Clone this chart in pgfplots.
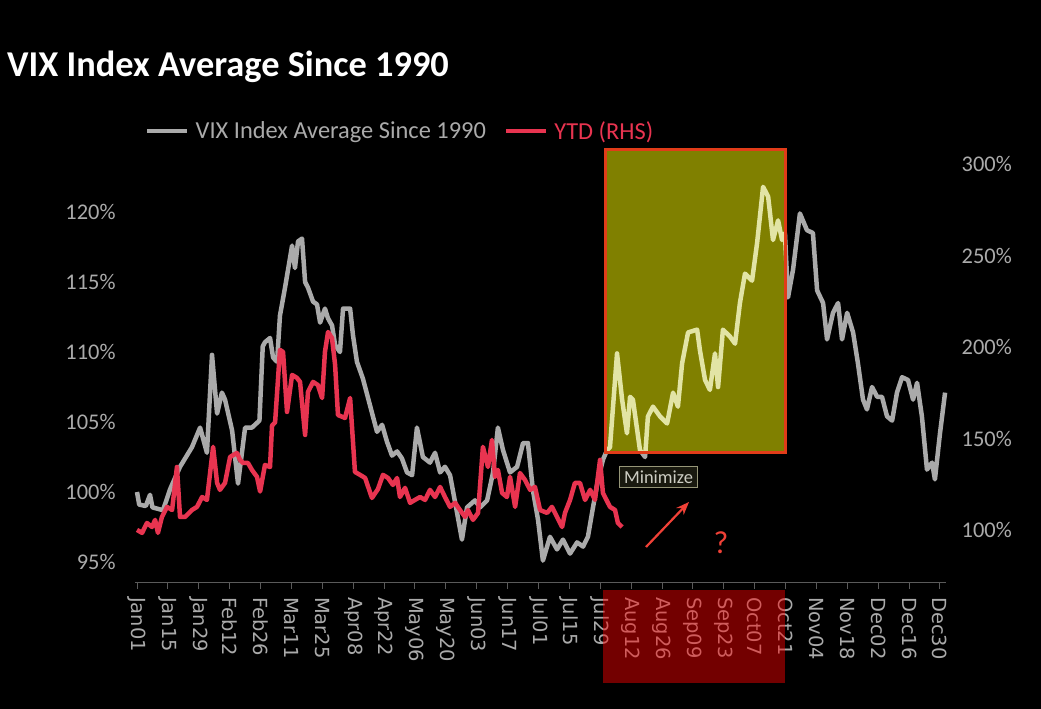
\documentclass[border=0pt]{standalone}
\usepackage{pgfplots}
\pgfplotsset{compat=1.18}
\usepackage{pgfplotstable}
\usepackage{fontspec}
\setmainfont{Carlito}
\newfontfamily\dejavu{DejaVu Sans}
\usetikzlibrary{arrows.meta}
\definecolor{vixgray}{RGB}{170,170,170}
\definecolor{paleyel}{RGB}{226,228,165}
\definecolor{olivebox}{RGB}{128,128,0}
\definecolor{ytdred}{RGB}{232,52,80}
\definecolor{boxred}{RGB}{225,60,25}
\definecolor{arrowred}{RGB}{240,65,55}

\pgfplotstableread{
day val
0 100.0
1 99.1
4 99.0
5.9 99.8
7 98.9
11.8 98.7
15 100.2
19.5 101.8
24.9 103.2
28.6 104.6
31.7 102.8
34.0 109.8
36.3 105.6
38.5 107.1
39.9 106.6
43.1 104.4
45.8 100.6
49.0 104.6
52.1 104.6
55.5 105.1
57.0 110.4
58.0 110.7
60.3 111.0
61.7 109.6
63.5 109.3
64.8 112.6
67.1 114.6
70.3 117.6
71.6 116.0
73.0 117.9
74.8 118.1
76.2 115.0
77.5 114.6
79.8 113.6
81.6 113.4
83.0 112.1
85.2 113.1
86.6 112.4
88.4 111.9
89.8 110.5
92.0 110.0
93.4 113.1
96.6 113.1
97.9 111.2
99.7 109.3
102.4 108.1
105.6 106.2
108.8 104.3
111.1 104.8
113.3 103.6
115.6 102.6
117.9 102.9
120.1 102.4
122.4 101.4
124.7 101.2
126.9 104.6
129.6 102.5
132.8 102.1
135.1 102.8
137.4 101.4
139.6 101.8
141.9 101.2
145.1 98.5
147.3 96.6
149.6 98.9
153.2 99.4
155.5 98.9
158.7 99.4
161.4 101.4
163.6 104.6
165.9 103.0
169.1 101.4
172.3 101.8
175.0 103.5
177.2 103.5
179.5 100.1
181.8 98.0
184.0 95.1
187.2 96.8
190.4 95.9
193.1 96.6
196.3 95.6
199.5 96.4
202.2 96.1
204.4 96.8
206.7 98.9
209.0 100.9
211.2 102.3
213.1 103.0
214.4 103.2
217.6 109.9
219.9 106.6
222.1 104.2
223.5 106.8
224.8 106.6
228.0 103.0
230.3 102.5
231.6 105.4
233.9 106.1
237.1 105.4
240.3 104.9
243.0 107.1
245.2 106.1
247.1 109.2
249.8 111.4
253.9 111.6
255.2 110.1
257.5 108.0
259.7 107.3
262.0 109.9
263.4 107.5
265.6 111.6
268.8 111.1
271.1 110.6
273.3 113.5
275.6 115.6
278.8 115.1
281.1 117.8
283.8 121.8
286.1 121.1
288.3 118.0
290.6 119.4
292.4 118.0
293.7 118.5
295.1 113.9
297.4 115.9
300.5 119.9
303.7 118.7
306.4 118.5
308.3 114.4
311.0 113.5
312.8 110.9
315.5 112.8
317.8 113.5
319.6 110.9
321.9 112.8
324.6 111.4
326.8 109.2
329.1 106.6
330.9 105.9
333.2 107.5
335.5 106.8
337.7 106.8
340.0 105.4
342.3 105.1
344.5 107.1
346.8 108.2
349.5 108.0
351.8 106.6
353.6 107.8
355.8 105.4
358.1 101.6
360.4 102.1
361.7 100.9
364.0 104.2
366.3 107.1
}\graytable

\pgfplotstableread{
day val
0 100.0
2.3 98.4
4.5 103.8
6.8 101.6
8.2 105.5
9.5 98.4
11.3 107.1
13.6 112.6
15.9 110.9
18.1 134.4
19.5 107.1
21.8 107.1
24.9 110.9
27.2 112.6
29.5 118.0
31.7 116.4
34.5 145.4
36.3 125.7
37.6 121.9
39.9 125.7
42.2 139.9
45.3 142.1
46.7 138.3
48.1 136.6
50.3 136.6
52.1 132.8
54.4 129.0
55.8 121.0
58.0 135.5
60.3 134.4
61.2 157.0
62.6 158.8
64.8 198.4
66.2 197.3
68.0 164.5
70.3 184.7
72.5 183.1
73.9 180.9
76.2 151.9
77.5 175.4
79.8 180.9
82.0 179.2
83.9 172.1
85.2 197.3
86.6 208.2
88.4 204.9
89.8 190.2
91.1 162.8
94.3 161.2
96.6 172.1
98.8 131.7
101.1 130.1
103.4 128.4
106.5 117.5
109.2 122.3
111.5 130.1
113.8 128.4
116.0 124.6
117.9 128.4
119.2 118.0
121.5 123.0
123.8 114.8
126.0 116.4
128.3 118.0
130.6 116.4
132.8 121.9
135.1 118.0
137.4 123.5
139.6 118.0
141.9 112.6
144.2 114.8
146.4 110.9
148.7 107.1
150.0 110.9
152.3 105.5
154.6 109.3
156.8 145.4
159.1 134.4
160.9 149.2
162.3 129.0
163.6 132.8
165.5 120.2
167.7 118.0
169.1 129.0
171.4 112.6
173.6 131.1
175.9 127.3
178.2 121.9
180.4 123.5
182.7 110.9
185.9 109.3
188.1 112.6
190.4 107.1
192.7 101.6
194.0 109.3
196.3 116.4
198.5 125.7
200.8 125.7
203.1 116.4
205.4 121.9
207.6 116.4
209.9 138.3
211.2 120.2
214.4 112.6
216.7 110.9
218.0 103.8
219.9 101.6
}\ytdtable

\begin{document}
\begin{tikzpicture}
\useasboundingbox (0bp,0bp) rectangle (1041bp,709bp);
\fill[black] (0bp,0bp) rectangle (1041bp,709bp);

\begin{axis}[
  at={(134.8bp,126bp)}, anchor=south west,
  scale only axis, width=810.7bp, height=433bp,
  xmin=-1, xmax=366.5, ymin=93.5, ymax=124.43,
  axis x line*=bottom, axis y line*=left,
  x axis line style={draw={rgb,255:red,90;green,90;blue,90}, line width=1bp},
  y axis line style={draw=none},
  xtick={0,14,...,364},
  xticklabels={Jan01,Jan15,Jan29,Feb12,Feb26,Mar11,Mar25,Apr08,Apr22,May06,May20,Jun03,Jun17,Jul01,Jul15,Jul29,Aug12,Aug26,Sep09,Sep23,Oct07,Oct21,Nov04,Nov18,Dec02,Dec16,Dec30},
  x tick style={draw={rgb,255:red,90;green,90;blue,90}, line width=1bp},
  tick align=outside,
  x tick label style={rotate=-90, anchor=west, inner sep=0pt, text=vixgray, font=\dejavu\fontsize{19.5}{21}\selectfont},
  xticklabel shift=8bp,
  xtick pos=bottom,
  ytick={95,100,105,110,115,120},
  yticklabels={95\%,100\%,105\%,110\%,115\%,120\%},
  y tick style={draw=none},
  ytick pos=left,
  y tick label style={anchor=east, inner sep=0pt, text=vixgray, font=\fontsize{22.5}{24}\selectfont},
  yticklabel shift=13bp,
  major tick length=6bp,
  legend style={at={(0.0126,1.0439)}, anchor=west, draw=none, fill=none, text=vixgray,
    font=\fontsize{24.5}{26}\selectfont, inner sep=0pt,
    nodes={inner xsep=6bp},
    /tikz/every even column/.append style={column sep=12bp}},
  legend columns=2,
  legend cell align=left,
  legend image code/.code={\draw[#1] (0bp,0bp) -- (40bp,0bp);},
  clip=false,
]
\addplot[vixgray, line width=4.5bp, line join=round] table[x=day,y=val] {\graytable};
\addlegendentry{VIX Index Average Since 1990}
\addlegendimage{ytdred, line width=4.5bp}
\addlegendentry{\textcolor{ytdred}{YTD (RHS)}}
\end{axis}

\begin{axis}[
  at={(134.8bp,126bp)}, anchor=south west,
  scale only axis, width=810.7bp, height=433bp,
  xmin=-1, xmax=366.5, ymin=71.0, ymax=307.65,
  axis x line=none, axis y line*=right,
  y axis line style={draw=none},
  ytick={100,150,200,250,300},
  yticklabels={100\%,150\%,200\%,250\%,300\%},
  y tick style={draw=none},
  y tick label style={anchor=west, inner sep=0pt, text=vixgray, font=\fontsize{22.5}{24}\selectfont},
  yticklabel shift=16bp,
  clip=false,
]
\addplot[ytdred, line width=4.5bp, line join=round] table[x=day,y=val] {\ytdtable};
\end{axis}

% highlight box: olive fill, gray line seen through it in pale yellow
\fill[olivebox] (605bp,256bp) rectangle (785bp,559bp);
\begin{axis}[
  at={(605bp,256bp)}, anchor=south west,
  scale only axis, width=180bp, height=303bp,
  xmin=212.15, xmax=293.74, ymin=102.79, ymax=124.43,
  hide axis,
]
\addplot[paleyel, line width=4.5bp, line join=round] table[x=day,y=val] {\graytable};
\end{axis}
\draw[boxred, line width=3bp] (605bp,256bp) rectangle (785bp,559bp);
\fill[red, opacity=0.45] (603bp,26bp) rectangle (785bp,119bp);

% tooltip and annotations
\node[draw={rgb,255:red,150;green,150;blue,120}, fill={rgb,255:red,25;green,25;blue,15},
  text={rgb,255:red,205;green,205;blue,195}, font=\fontsize{18.5}{20}\selectfont,
  inner xsep=5bp, inner ysep=4bp, line width=1bp] at (658.5bp,232bp) {Minimize};
\draw[arrowred, line width=2.2bp, -{Stealth[length=13bp,width=10bp]}] (646bp,162bp) -- (689bp,207bp);
\node[text=arrowred, font=\fontsize{32}{34}\selectfont] at (721bp,166bp) {?};

% title
\node[anchor=base west, text=white, font=\bfseries\fontsize{36.5}{40}\selectfont, inner sep=0pt] at (7bp,632bp) {VIX Index Average Since 1990};
\end{tikzpicture}
\end{document}
